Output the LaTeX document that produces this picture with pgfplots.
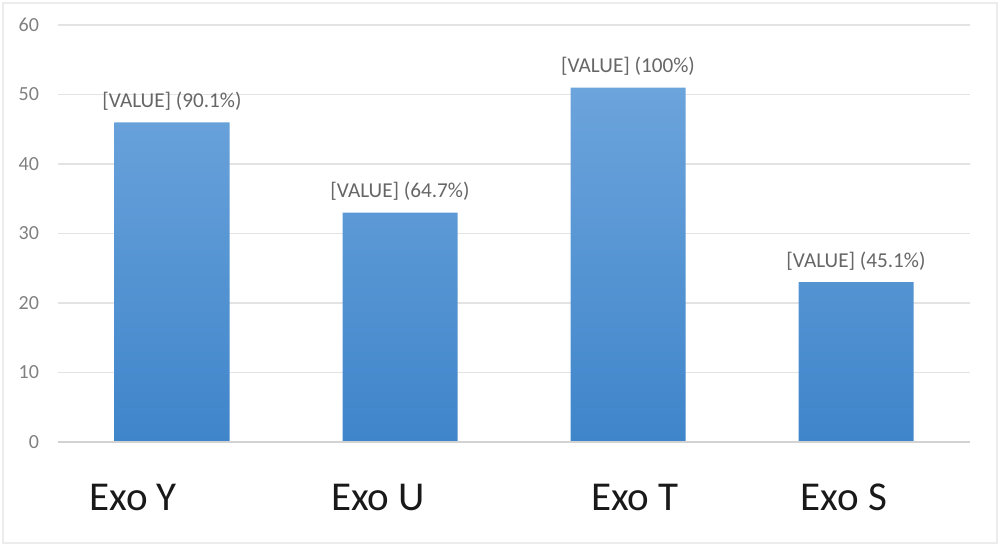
\documentclass[border=0pt]{standalone}
\usepackage{pgfplots}
\pgfplotsset{compat=1.18}
\usepackage{pgfplotstable}
\usepackage{fontspec}
\setmainfont{Carlito}
\definecolor{bartop}{HTML}{6CA4DC}
\definecolor{barbot}{HTML}{3F85CA}
\definecolor{gridc}{HTML}{E3E3E3}
\definecolor{axisc}{HTML}{D2D2D2}
\definecolor{tickc}{HTML}{808080}
\definecolor{valc}{HTML}{666666}
\pgfplotstableread{
x y label
0 46 {[VALUE] (90.1\%)}
1 33 {[VALUE] (64.7\%)}
2 51 {[VALUE] (100\%)}
3 23 {[VALUE] (45.1\%)}
}\datatab
\begin{document}
\begin{tikzpicture}
\useasboundingbox (-29pt,-52pt) rectangle (471pt,221pt);
\draw[gray!15, line width=0.8pt] (-27.5pt,-50.5pt) rectangle (469.5pt,219.5pt);
\begin{axis}[
  at={(0,0)}, anchor=south west,
  scale only axis,
  width=456pt, height=208.5pt,
  xmin=-0.5, xmax=3.5,
  ymin=0, ymax=60,
  ytick={0,10,20,30,40,50,60},
  xtick={-0.17,0.904,2.03,2.947},
  xticklabels={Exo Y, Exo U, Exo T, Exo S},
  axis line style={draw=none},
  major tick length=0pt,
  ymajorgrids,
  grid style={gridc, line width=0.6pt},
  /pgf/number format/assume math mode=true,
  yticklabel style={font=\fontsize{10}{12}\selectfont, text=tickc, anchor=east, xshift=-6pt},
  xticklabel style={font=\fontsize{20.5}{24}\selectfont, text=black!90, anchor=base, yshift=-34pt},
  clip=false,
]
\addplot[ybar, bar width=57.5pt, draw=none, top color=bartop, bottom color=barbot,
  point meta=explicit symbolic,
  nodes near coords={\pgfplotspointmeta},
  every node near coord/.append style={font=\fontsize{10.6}{12}\selectfont, text=valc, anchor=base, inner sep=0pt, yshift=7.5pt},
] table[x=x, y=y, meta=label] {\datatab};
\draw[axisc, line width=0.8pt] (axis cs:-0.5,0) -- (axis cs:3.5,0);
\end{axis}
\end{tikzpicture}
\end{document}
